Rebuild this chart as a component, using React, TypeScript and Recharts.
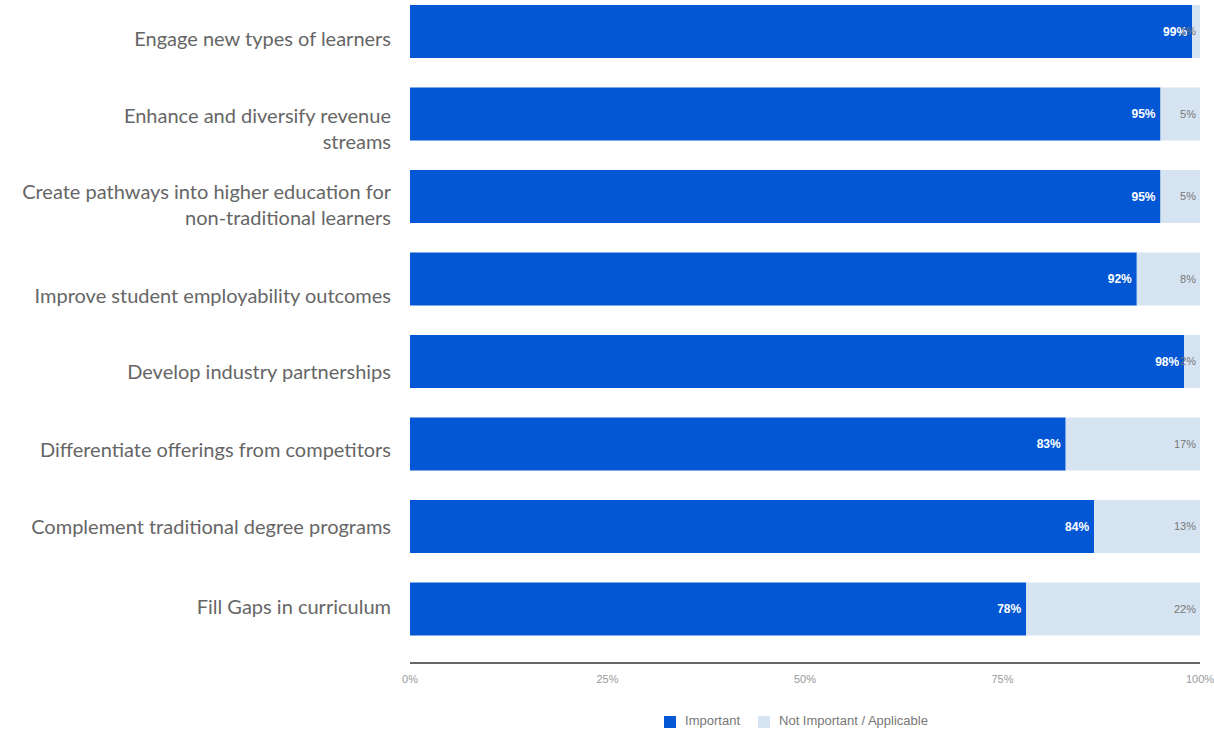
import React from 'react';
import { BarChart, Bar, XAxis, YAxis, Legend, LabelList } from 'recharts';

// 카테고리 (줄바꿈은 원본 라벨 그대로)
const categories = [
  'Engage new types of learners',
  'Enhance and diversify revenue\nstreams',
  'Create pathways into higher education for\nnon-traditional learners',
  'Improve student employability outcomes',
  'Develop industry partnerships',
  'Differentiate offerings from competitors',
  'Complement traditional degree programs',
  'Fill Gaps in curriculum',
];
const important = [99, 95, 95, 92, 98, 83, 84, 78];
const notImportant = [1, 5, 5, 8, 2, 17, 13, 22];
const xTicks = [0, 0.25, 0.5, 0.75, 1];

const data = categories.map((name, i) => ({
  name,
  important: important[i],
  notImportant: notImportant[i],
}));

const BLUE = '#0357d5';
const LIGHT = '#d6e4f2';

// 원본 라벨이 막대 중심과 살짝 어긋나 있음 (세로 보정)
const labelNudge = [7, 14, 8, 16, 10, 5, 0, -3];

const CategoryTick = (props: any) => {
  const { x, y, payload, index } = props;
  const lines = String(payload.value).split('\n');
  const lineH = 26;
  const startY = y + (labelNudge[index] ?? 0) - ((lines.length - 1) * lineH) / 2;
  return (
    <text
      x={x - 11}
      y={startY}
      textAnchor="end"
      dominantBaseline="central"
      fill="#666"
      fontSize={20}
      fontFamily="Lato, 'Open Sans', sans-serif"
    >
      {lines.map((l, k) => (
        <tspan key={k} x={x - 11} y={startY + k * lineH}>
          {l}
        </tspan>
      ))}
    </text>
  );
};

export default function App() {
  return (
    <div style={{ position: 'absolute', left: 0, top: 0 }}>
      <BarChart
        width={1214}
        height={729}
        data={data}
        layout="vertical"
        stackOffset="expand"
        margin={{ top: -10, right: 14, bottom: 6, left: 0 }}
      >
        <XAxis
          type="number"
          domain={[0, 1]}
          ticks={xTicks}
          tickFormatter={(v) => `${Math.round(v * 100)}%`}
          tickLine={false}
          axisLine={{ stroke: '#666', strokeWidth: 2 }}
          tick={{ fill: '#999', fontSize: 11, fontFamily: 'Arial, sans-serif' }}
          tickMargin={6}
          height={30}
          interval={0}
        />
        <YAxis
          type="category"
          dataKey="name"
          width={410}
          axisLine={false}
          tickLine={false}
          tick={<CategoryTick />}
          padding={{ top: 0, bottom: 13 }}
          interval={0}
        />
        <Legend
          verticalAlign="bottom"
          height={30}
          iconType="square"
          iconSize={12}
          wrapperStyle={{
            top: 713,
            left: 410,
            width: 790,
            fontSize: 13,
            fontFamily: 'Arial, sans-serif',
          }}
          formatter={(value) => (
            <span style={{ color: '#777', marginLeft: 5, marginRight: 8 }}>{value}</span>
          )}
        />
        <Bar
          dataKey="important"
          name="Important"
          stackId="a"
          fill={BLUE}
          barSize={53}
          isAnimationActive={false}
        >
          <LabelList
            dataKey="important"
            position="insideRight"
            offset={5}
            formatter={(v: any) => `${v}%`}
            fill="#fff"
            fontSize={12}
            fontWeight="bold"
            fontFamily="Arial, sans-serif"
          />
        </Bar>
        <Bar
          dataKey="notImportant"
          name="Not Important / Applicable"
          stackId="a"
          fill={LIGHT}
          barSize={53}
          isAnimationActive={false}
        >
          <LabelList
            dataKey="notImportant"
            position="insideRight"
            offset={4}
            formatter={(v: any) => `${v}%`}
            fill="#777"
            fontSize={11}
            fontFamily="Arial, sans-serif"
          />
        </Bar>
      </BarChart>
    </div>
  );
}
